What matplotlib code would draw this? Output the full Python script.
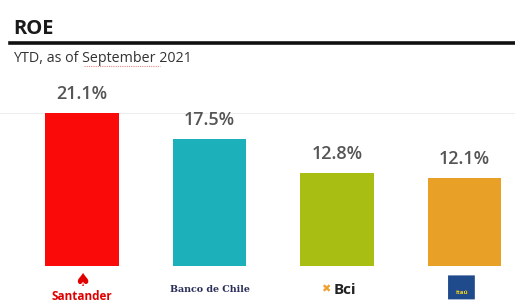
import matplotlib.pyplot as plt
from matplotlib.patches import FancyBboxPatch

# ROE by bank, YTD as of September 2021
banks = ['Santander', 'Banco de Chile', 'Bci', 'Itaú']
roe = [21.1, 17.5, 12.8, 12.1]
labels = ['21.1%', '17.5%', '12.8%', '12.1%']
colors = ['#fb0a0a', '#1cb0bb', '#a8be12', '#e9a026']

plt.rcParams['font.family'] = ['Open Sans', 'DejaVu Sans']

fig = plt.figure(figsize=(5.15, 3.02), dpi=100, facecolor='white')

# header
fig.text(13 / 515, 1 - 34 / 302, 'ROE', fontsize=14.5, fontweight='bold',
         color='#1a1a1a', va='baseline')
fig.add_artist(plt.Line2D([10 / 515, 1], [1 - 42.5 / 302] * 2, color='#111111',
                          lw=2.6, transform=fig.transFigure))
fig.text(13 / 515, 1 - 61.5 / 302, 'YTD, as of September 2021', fontsize=10.3,
         color='#333333', va='baseline')
# spellcheck squiggle under "September"
fig.add_artist(plt.Line2D([84 / 515, 160 / 515], [1 - 66 / 302] * 2,
                          color='#e88888', lw=0.8, ls=(0, (1, 1)),
                          transform=fig.transFigure))

ax = fig.add_axes([0, (302 - 266) / 302, 1, (266 - 70) / 302])
x = list(range(len(banks)))
ax.bar(x, roe, width=0.58, color=colors, zorder=2)
ax.axhline(roe[0], color='#eeeeee', lw=0.8, zorder=1)
ax.set_xlim(-82 / 127.5, (515 - 82) / 127.5)
ax.set_ylim(0, 196 / 7.25)
ax.axis('off')

for xi, v, lab in zip(x, roe, labels):
    ax.text(xi, v + 1.4, lab, ha='center', va='bottom', fontsize=13,
            fontweight='semibold', color='#555555')

# bank "logos" below bars
ax.text(0, -2.1, '\u2660', ha='center', va='center', fontsize=13,
        color='#e00000', clip_on=False)
ax.text(0, -4.2, 'Santander', ha='center', va='center', fontsize=8.5,
        fontweight='bold', color='#e00000', clip_on=False)
ax.text(1, -3.3, 'Banco de Chile', ha='center', va='center', fontsize=6.8,
        family=['DejaVu Serif'], fontweight='bold', color='#2a2f5a',
        clip_on=False)
ax.text(2.06, -3.3, 'Bci', ha='center', va='center', fontsize=11,
        fontweight='bold', color='#222222', clip_on=False)
ax.text(1.915, -3.3, '\u2716', ha='center', va='center', fontsize=8,
        color='#f0a030', clip_on=False)
box = FancyBboxPatch((2.976 - 0.1, -4.6), 0.2, 3.3,
                     boxstyle='round,pad=0.005', facecolor='#1f4a8c',
                     edgecolor='none', clip_on=False)
ax.add_patch(box)
ax.text(2.976, -3.6, 'itaú', ha='center', va='center', fontsize=4.5,
        fontweight='bold', color='#f2d21a', clip_on=False)

fig.savefig('out.png', dpi=100, facecolor='white')
